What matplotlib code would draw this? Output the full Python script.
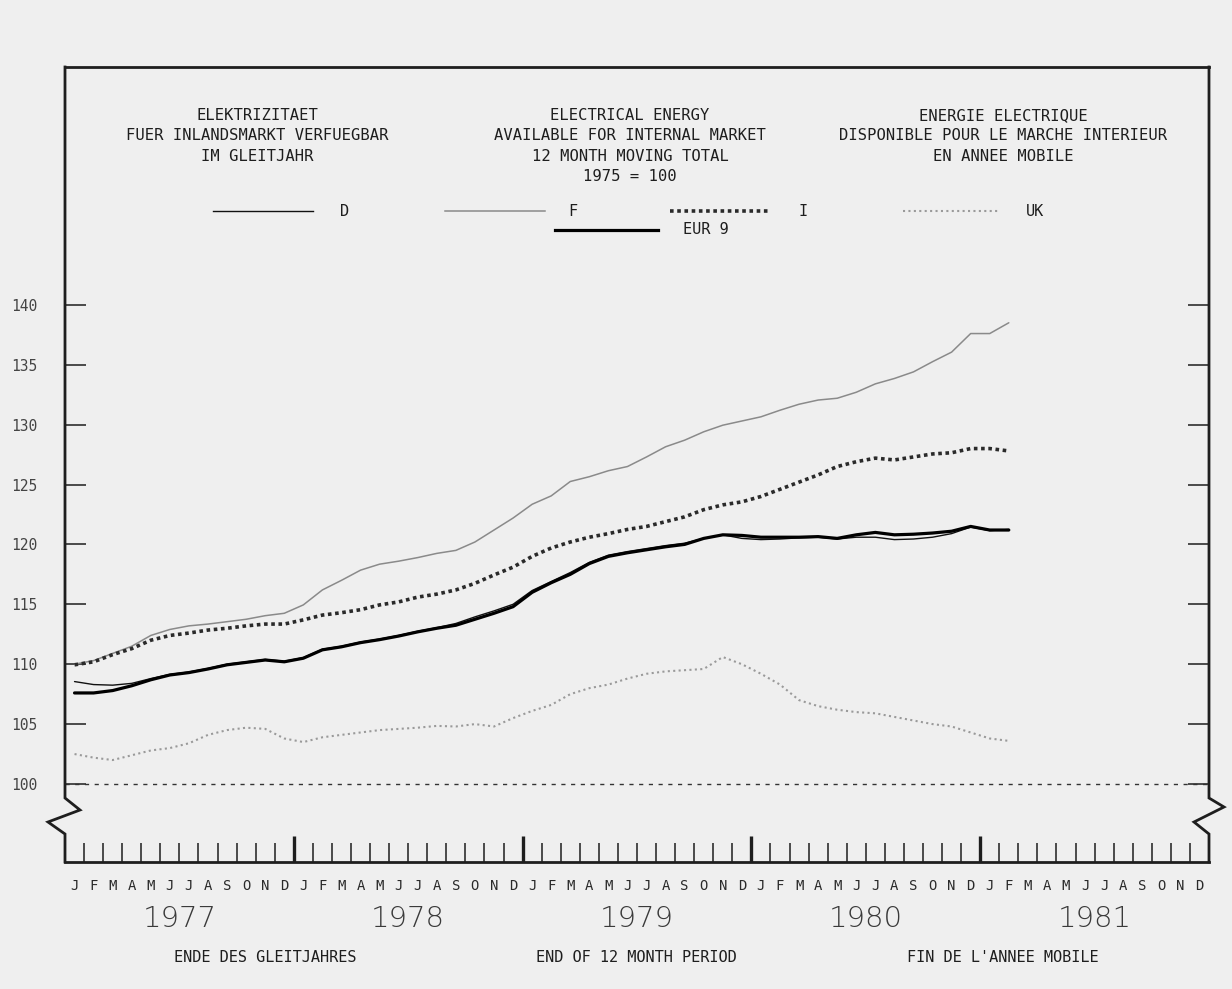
import numpy as np
import matplotlib
matplotlib.use("Agg")
import matplotlib.pyplot as plt
from matplotlib.lines import Line2D

# Monthly index values, 1975 = 100, January 1977 .. February 1981
D = [108.55, 108.3, 108.25, 108.4, 108.8, 109.15, 109.35, 109.65, 110.0, 110.2,
     110.4, 110.25, 110.55, 111.25, 111.5, 111.85, 112.1, 112.4, 112.75, 113.05,
     113.4, 113.95, 114.45, 115.0, 116.15, 116.9, 117.65, 118.5, 119.1, 119.4,
     119.65, 119.9, 120.1, 120.5, 120.8, 120.5, 120.4, 120.45, 120.55, 120.6,
     120.45, 120.6, 120.6, 120.4, 120.45, 120.6, 120.9, 121.45, 121.15, 121.25]
F = [110.0, 110.3, 110.9, 111.5, 112.4, 112.9, 113.2, 113.35, 113.55, 113.75,
     114.05, 114.25, 114.95, 116.2, 117.0, 117.85, 118.35, 118.6, 118.9, 119.25,
     119.5, 120.2, 121.2, 122.2, 123.35, 124.05, 125.25, 125.65, 126.15, 126.5,
     127.3, 128.15, 128.7, 129.4, 129.95, 130.3, 130.65, 131.2, 131.7, 132.05,
     132.2, 132.7, 133.4, 133.85, 134.4, 135.25, 136.05, 137.6, 137.6, 138.5]
I = [109.95, 110.2, 110.8, 111.3, 112.0, 112.4, 112.6, 112.85, 113.0, 113.2,
     113.35, 113.35, 113.7, 114.1, 114.3, 114.55, 114.95, 115.2, 115.6, 115.85,
     116.2, 116.75, 117.45, 118.1, 119.0, 119.7, 120.2, 120.6, 120.9, 121.25,
     121.5, 121.9, 122.3, 122.9, 123.3, 123.55, 124.0, 124.6, 125.2, 125.8,
     126.5, 126.9, 127.2, 127.05, 127.3, 127.55, 127.65, 128.0, 128.0, 127.8]
UK = [102.5, 102.2, 102.0, 102.4, 102.8, 103.0, 103.4, 104.1, 104.5, 104.7,
      104.6, 103.8, 103.5, 103.9, 104.1, 104.3, 104.5, 104.6, 104.7, 104.85,
      104.8, 105.0, 104.8, 105.5, 106.1, 106.6, 107.5, 108.0, 108.3, 108.8,
      109.2, 109.4, 109.5, 109.6, 110.6, 110.0, 109.2, 108.3, 107.0, 106.5,
      106.2, 106.0, 105.9, 105.6, 105.3, 105.0, 104.8, 104.3, 103.8, 103.6]
EUR9 = [107.6, 107.6, 107.8, 108.2, 108.7, 109.1, 109.3, 109.6, 109.95, 110.15,
        110.35, 110.2, 110.5, 111.2, 111.45, 111.8, 112.05, 112.35, 112.7, 113.0,
        113.25, 113.75, 114.25, 114.8, 116.0, 116.8, 117.5, 118.4, 119.0, 119.3,
        119.55, 119.8, 120.0, 120.5, 120.8, 120.75, 120.6, 120.6, 120.6, 120.65,
        120.5, 120.8, 121.0, 120.8, 120.85, 120.95, 121.1, 121.5, 121.2, 121.2]

month_letters = list("JFMAMJJASOND")
years = ["1977", "1978", "1979", "1980", "1981"]
y_ticks = [100, 105, 110, 115, 120, 125, 130, 135, 140]

title_de = "ELEKTRIZITAET\nFUER INLANDSMARKT VERFUEGBAR\nIM GLEITJAHR"
title_en = "ELECTRICAL ENERGY\nAVAILABLE FOR INTERNAL MARKET\n12 MONTH MOVING TOTAL\n1975 = 100"
title_fr = "ENERGIE ELECTRIQUE\nDISPONIBLE POUR LE MARCHE INTERIEUR\nEN ANNEE MOBILE"
foot_de = "ENDE DES GLEITJAHRES"
foot_en = "END OF 12 MONTH PERIOD"
foot_fr = "FIN DE L'ANNEE MOBILE"

W, H = 1232, 989
BG = "#efefef"
INK = "#1e1e1e"
MONO = "DejaVu Sans Mono"


def fx(x):
    return x / W


def fy(y):
    return 1 - y / H


styles = {
    "D": dict(color="#111111", lw=1.0, ls="-"),
    "F": dict(color="#8a8a8a", lw=1.1, ls="-"),
    "I": dict(color="#2a2a2a", lw=2.6, ls=(0, (1, 1))),
    "UK": dict(color="#9a9a9a", lw=1.5, ls=(0, (1, 1.6))),
    "EUR 9": dict(color="#000000", lw=2.3, ls="-"),
}
series = {"D": D, "F": F, "I": I, "UK": UK, "EUR 9": EUR9}

fig = plt.figure(figsize=(W / 100, H / 100), dpi=100, facecolor=BG)
left, right, top, bottom = 65, 1209, 67, 862
ax = fig.add_axes([fx(left), fy(bottom), fx(right - left), (bottom - top) / H])
ax.set_facecolor(BG)

n_years = len(years)
ax.set_xlim(-0.5, 12 * n_years - 0.5)
ax.set_ylim(100 - (bottom - 784) / 11.98, 100 + (784 - top) / 11.98)

x = np.arange(len(D))
for name in ["UK", "F", "I", "D", "EUR 9"]:
    st = styles[name]
    ax.plot(x, series[name], color=st["color"], lw=st["lw"], ls=st["ls"],
            solid_capstyle="round")

ax.axhline(100, color="#333333", lw=1.0, ls=(0, (3, 4)))

# y axis: inward ticks on both sides, labels on the left only
ax.set_yticks(y_ticks)
ax.set_yticklabels([str(v) for v in y_ticks], fontfamily=MONO, fontsize=10.5,
                   ha="left")
ax.tick_params(axis="y", which="both", direction="in", length=15, width=1.1,
               left=True, right=True, pad=39, colors=INK, labelcolor="#444444")

# x axis: month boundaries as ticks, heavier ticks between years
bounds = np.arange(0.5, 12 * n_years - 1, 1.0)
year_bounds = [b for b in bounds if (b + 0.5) % 12 == 0]
month_bounds = [b for b in bounds if (b + 0.5) % 12 != 0]
ax.set_xticks(year_bounds)
ax.set_xticks(month_bounds, minor=True)
ax.tick_params(axis="x", which="major", direction="in", length=19, width=2.4,
               labelbottom=False, colors=INK)
ax.tick_params(axis="x", which="minor", direction="in", length=14, width=1.1,
               colors=INK)

xform = ax.get_xaxis_transform()
for m in range(12 * n_years):
    ax.text(m, -(886 - bottom) / (bottom - top), month_letters[m % 12],
            transform=xform, ha="center", va="center", fontfamily=MONO,
            fontsize=10, color="#2a2a2a")
for k, yr in enumerate(years):
    ax.text(12 * k + 5.5, -(919 - bottom) / (bottom - top), yr,
            transform=xform, ha="center", va="center", fontfamily="DejaVu Sans",
            fontweight="light", fontsize=21, color="#3a3a3a")

for side in ["left", "right"]:
    ax.spines[side].set_visible(False)
for side in ["top", "bottom"]:
    ax.spines[side].set_linewidth(2.0)
    ax.spines[side].set_color(INK)

# vertical axes with a zigzag break below the 100 line
left_edge = [(65, 67), (65, 798), (80, 810), (48, 822), (65, 834), (65, 862)]
right_edge = [(1209, 67), (1209, 798), (1224, 807), (1194, 822), (1209, 834),
              (1209, 862)]
for pts in (left_edge, right_edge):
    fig.add_artist(Line2D([fx(p[0]) for p in pts], [fy(p[1]) for p in pts],
                          color=INK, lw=2.0, solid_joinstyle="miter"))

# headings
for txt, cx in ((title_de, 257), (title_en, 630), (title_fr, 1003)):
    fig.text(fx(cx), fy(108), txt, ha="center", va="top", fontfamily=MONO,
             fontsize=11.2, color=INK, linespacing=1.45)

# key
key = [("D", 213, 313, 211, 340), ("F", 445, 545, 211, 568),
       ("I", 670, 770, 211, 798), ("UK", 903, 1000, 211, 1026),
       ("EUR 9", 555, 658, 230, 683)]
for name, x0, x1, yk, xt in key:
    st = styles[name]
    fig.add_artist(Line2D([fx(x0), fx(x1)], [fy(yk), fy(yk)], color=st["color"],
                          lw=st["lw"], ls=st["ls"]))
    fig.text(fx(xt), fy(yk), name, ha="left", va="center", fontfamily=MONO,
             fontsize=11, color=INK)

for txt, cx in ((foot_de, 265), (foot_en, 636), (foot_fr, 1003)):
    fig.text(fx(cx), fy(958), txt, ha="center", va="center", fontfamily=MONO,
             fontsize=11, color=INK)

fig.savefig("out.png", dpi=100, facecolor=BG)
